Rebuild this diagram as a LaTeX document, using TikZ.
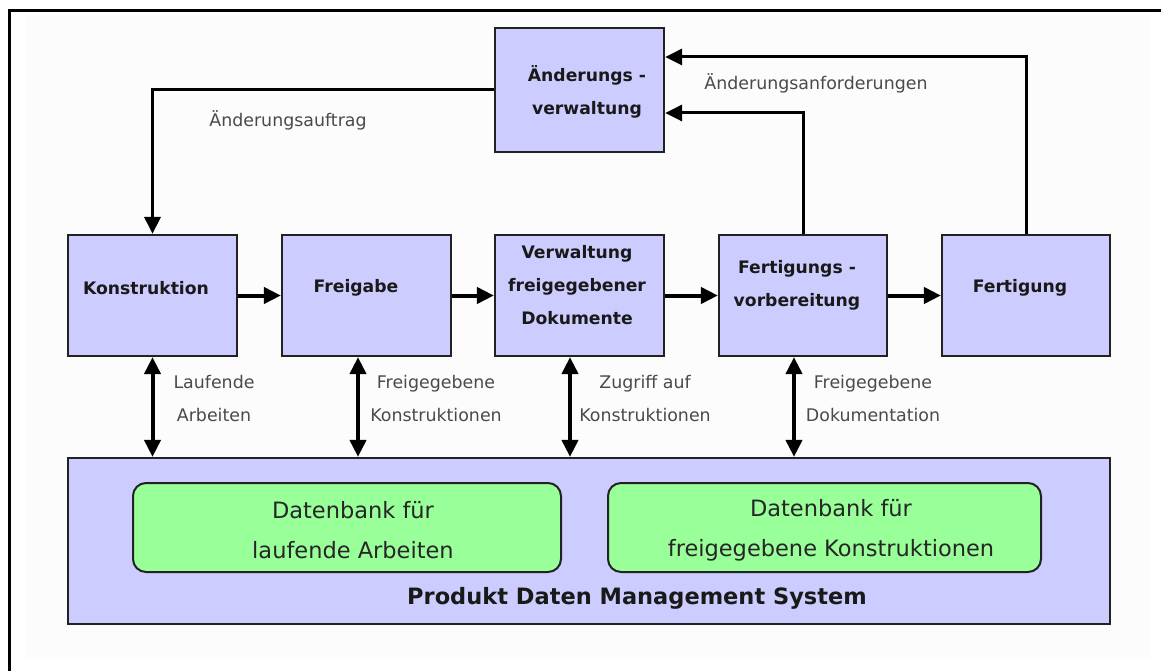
\documentclass[tikz,border=0pt]{standalone}
\usepackage{fontspec}
\setmainfont{DejaVu Sans}
\usetikzlibrary{arrows.meta}
\definecolor{boxblue}{HTML}{CCCCFF}
\definecolor{boxgreen}{HTML}{99FF99}
\definecolor{lblgray}{HTML}{4A4A4A}
\definecolor{edgedark}{HTML}{222222}
\definecolor{haze}{HTML}{FCFCFC}

\begin{document}
\begin{tikzpicture}[x=1pt,y=-1pt,
  bt/.tip={Triangle[length=17pt,width=16pt]},
  box/.style={draw=edgedark, line width=2.2pt, fill=boxblue, inner sep=0pt},
  dbbox/.style={draw=edgedark, line width=2pt, fill=boxgreen, rounded corners=13pt, inner sep=0pt},
  boxtext/.style={font=\fontsize{17.2}{33}\selectfont\bfseries, text=black!90, align=center, inner sep=0pt},
  lbltext/.style={font=\fontsize{17.4}{33}\selectfont, text=lblgray, align=center, inner sep=0pt},
  dbtext/.style={font=\fontsize{22.5}{40}\selectfont, text=black!85, align=center, inner sep=0pt},
  pdmtext/.style={font=\fontsize{22.5}{27}\selectfont\bfseries, text=black!90, inner sep=0pt},
  flow/.style={line width=4pt, -{bt}},
  feedback/.style={line width=3pt, -{bt}},
  access/.style={line width=4pt, {bt}-{bt}},
]
\useasboundingbox (0,0) rectangle (1161,671);

% page frame and background
\fill[haze] (25,15) rectangle (1151,659);
\draw[line width=3pt] (8,11) -- (1161,11);
\draw[line width=3pt] (9,10) -- (9,671);

% process boxes
\node[box, minimum width=169pt, minimum height=124pt] (aend) at (579.5,90) {};
\node[box, minimum width=169pt, minimum height=121pt] (konst) at (152.5,295.5) {};
\node[box, minimum width=169pt, minimum height=121pt] (frg) at (366.5,295.5) {};
\node[box, minimum width=169pt, minimum height=121pt] (verw) at (579.5,295.5) {};
\node[box, minimum width=168pt, minimum height=121pt] (fvor) at (803,295.5) {};
\node[box, minimum width=168pt, minimum height=121pt] (fert) at (1026,295.5) {};

% product data management system with its databases
\node[box, minimum width=1042pt, minimum height=166pt] (pdm) at (589,541) {};
\node[dbbox, minimum width=428pt, minimum height=89pt] (db1) at (347,527.5) {};
\node[dbbox, minimum width=433pt, minimum height=89pt] (db2) at (824.5,527.5) {};

% box captions
\node[boxtext] (aend-t) at (587,91.5) {Änderungs -\\verwaltung};
\node[boxtext] (konst-t) at (146,288) {Konstruktion};
\node[boxtext] (frg-t) at (356,288) {Freigabe};
\node[boxtext] (verw-t) at (577,285.5) {Verwaltung\\freigegebener\\Dokumente};
\node[boxtext] (fvor-t) at (797,285.5) {Fertigungs -\\vorbereitung};
\node[boxtext] (fert-t) at (1020,288) {Fertigung};
\node[dbtext] (db1-t) at (353,530) {Datenbank für\\laufende Arbeiten};
\node[dbtext] (db2-t) at (831,530) {Datenbank für\\freigegebene Konstruktionen};
\node[pdmtext] (pdm-t) at (637,598) {Produkt Daten Management System};

% main process flow
\draw[flow] (konst.east) -- (frg.west);
\draw[flow] (frg.east) -- (verw.west);
\draw[flow] (verw.east) -- (fvor.west);
\draw[flow] (fvor.east) -- (fert.west);

% change management loop
\draw[feedback] (aend.west) -| (konst.north);
\draw[feedback] (fvor.north) |- ([yshift=-23pt]aend.east);
\draw[feedback] (fert.north) |- ([yshift=33pt]aend.east);
\node[lbltext] (l-auftrag) at (288,120) {Änderungsauftrag};
\node[lbltext] (l-anford) at (816,83) {Änderungsanforderungen};

% data exchange with the PDM system
\draw[access] (konst.south) -- (konst.south |- pdm.north);
\draw[access] ([xshift=-8.5pt]frg.south) -- ([xshift=-8.5pt]frg.south |- pdm.north);
\draw[access] ([xshift=-9.5pt]verw.south) -- ([xshift=-9.5pt]verw.south |- pdm.north);
\draw[access] ([xshift=-9pt]fvor.south) -- ([xshift=-9pt]fvor.south |- pdm.north);
\node[lbltext] (l-lauf) at (214,399) {Laufende\\Arbeiten};
\node[lbltext] (l-frg) at (436,399) {Freigegebene\\Konstruktionen};
\node[lbltext] (l-zugriff) at (645,399) {Zugriff auf\\Konstruktionen};
\node[lbltext] (l-doku) at (873,399) {Freigegebene\\Dokumentation};
\end{tikzpicture}
\end{document}
